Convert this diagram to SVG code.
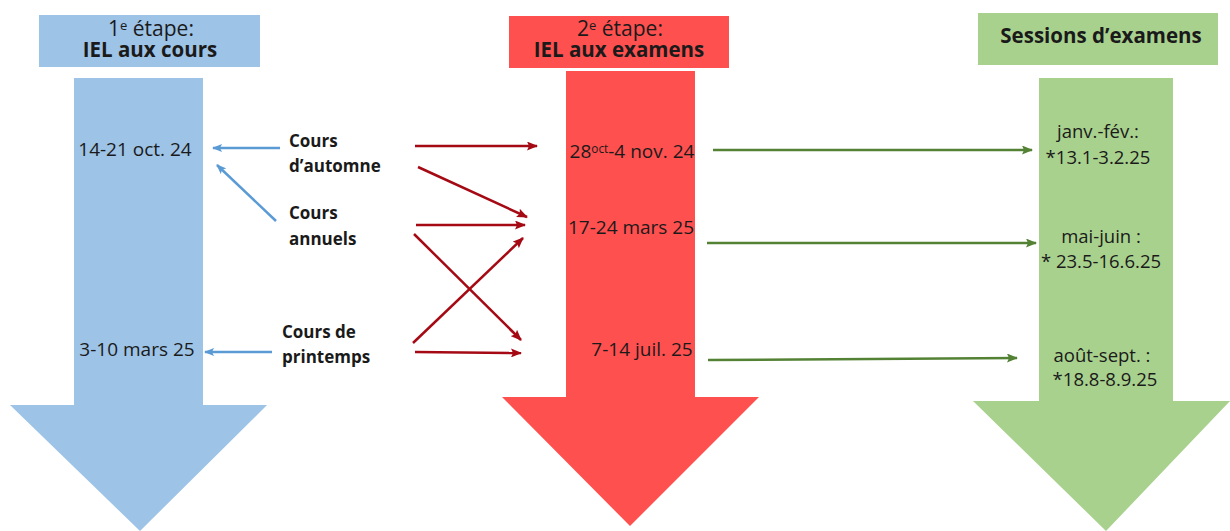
<svg xmlns="http://www.w3.org/2000/svg" width="1230" height="531" viewBox="0 0 1230 531">
<defs>
<marker id="mb" markerWidth="10" markerHeight="8" refX="9" refY="4" orient="auto" markerUnits="userSpaceOnUse"><path d="M0,0 L10,4 L0,8 L2,4 Z" fill="#5B9BD5"/></marker>
<marker id="mr" markerWidth="11" markerHeight="9" refX="10" refY="4.5" orient="auto" markerUnits="userSpaceOnUse"><path d="M0,0 L11,4.5 L0,9 L2,4.5 Z" fill="#A50A14"/></marker>
<marker id="mg" markerWidth="11" markerHeight="9" refX="10" refY="4.5" orient="auto" markerUnits="userSpaceOnUse"><path d="M0,0 L11,4.5 L0,9 L2,4.5 Z" fill="#548235"/></marker>
</defs>
<style>
text{font-family:"Open Sans","Noto Sans",sans-serif;fill:#1a1a1a;text-anchor:middle}
.t{font-size:21px}
.tb{font-size:20.5px;font-weight:bold}
.d{font-size:19px}
.g{font-size:18.5px}
.lb{font-size:17px;font-weight:bold;text-anchor:start}
.sup{font-size:0.62em;baseline-shift:45%}
.cb{stroke:#5B9BD5;stroke-width:2.5;fill:none;marker-end:url(#mb)}
.cr{stroke:#A50A14;stroke-width:2.5;fill:none;marker-end:url(#mr)}
.cg{stroke:#548235;stroke-width:2.5;fill:none;marker-end:url(#mg)}
</style>
<rect width="1230" height="531" fill="#fff"/>
<g id="col1">
<rect x="39" y="15" width="221" height="52" fill="#9DC3E6"/>
<text class="t" x="151" y="36">1<tspan class="sup">e</tspan> étape:</text>
<text class="tb" x="150" y="57">IEL aux cours</text>
<path d="M74,78 H203 V405 H267 L140,531 L10,405 H74 Z" fill="#9DC3E6"/>
<text class="d" x="135" y="156">14-21 oct. 24</text>
<text class="d" x="137" y="356">3-10 mars 25</text>
</g>
<g id="col2">
<rect x="509" y="16" width="220" height="52" fill="#FF5050"/>
<text class="t" x="620" y="36">2<tspan class="sup">e</tspan> étape:</text>
<text class="tb" x="619" y="57">IEL aux examens</text>
<path d="M566,71 H695 V397 H759 L630,526 L502,397 H566 Z" fill="#FF5050"/>
<text class="d" x="632" y="158">28<tspan class="sup">oct</tspan>-4 nov. 24</text>
<text class="d" x="631" y="234">17-24 mars 25</text>
<text class="d" x="642" y="356">7-14 juil. 25</text>
</g>
<g id="col3">
<rect x="978" y="13" width="240" height="52" fill="#A9D18E"/>
<text class="tb" x="1101" y="43">Sessions d’examens</text>
<path d="M1039,78 H1173 V401 H1230 L1106,531 L973,401 H1039 Z" fill="#A9D18E"/>
<text class="g" x="1098" y="138">janv.-fév.:</text>
<text class="g" x="1098" y="164">*13.1-3.2.25</text>
<text class="g" x="1101" y="243">mai-juin :</text>
<text class="g" x="1101" y="268">* 23.5-16.6.25</text>
<text class="g" x="1102" y="362">août-sept. :</text>
<text class="g" x="1105" y="386">*18.8-8.9.25</text>
</g>
<g id="automne"><text class="lb" x="289" y="147">Cours</text><text class="lb" x="289" y="172">d’automne</text></g>
<g id="annuels"><text class="lb" x="289" y="219">Cours</text><text class="lb" x="289" y="245">annuels</text></g>
<g id="printemps"><text class="lb" x="282" y="338">Cours de</text><text class="lb" x="282" y="363">printemps</text></g>
<g id="connectors">
<line class="cb" x1="280" y1="148" x2="213" y2="148"/>
<line class="cb" x1="276" y1="221" x2="217" y2="165"/>
<line class="cb" x1="272" y1="352" x2="205" y2="352"/>
<line class="cr" x1="415" y1="146" x2="537" y2="146"/>
<line class="cr" x1="418" y1="167" x2="527" y2="217"/>
<line class="cr" x1="416" y1="225" x2="525" y2="225"/>
<line class="cr" x1="414" y1="234" x2="521" y2="340"/>
<line class="cr" x1="413" y1="343" x2="523" y2="238"/>
<line class="cr" x1="415" y1="352" x2="521" y2="353"/>
<line class="cg" x1="713" y1="150" x2="1032" y2="150"/>
<line class="cg" x1="707" y1="243" x2="1036" y2="243"/>
<line class="cg" x1="708" y1="360" x2="1017" y2="358"/>
</g>
</svg>
